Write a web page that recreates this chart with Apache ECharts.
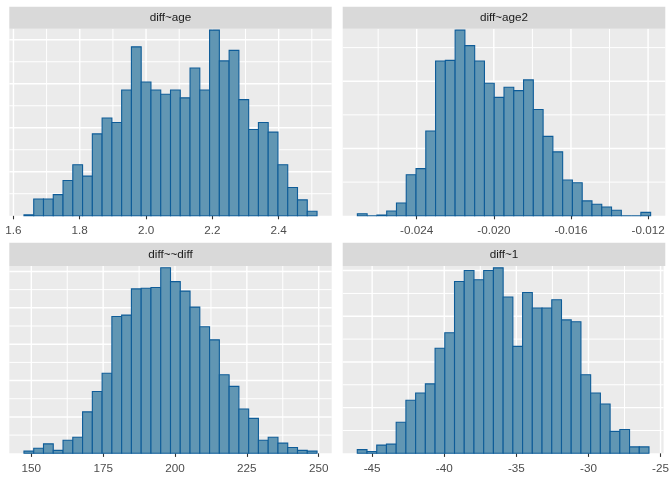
<!DOCTYPE html>
<html><head><meta charset="utf-8">
<script src="https://cdn.jsdelivr.net/npm/echarts@6/dist/echarts.min.js"></script>
<style>html,body{margin:0;padding:0;background:#fff}#c{width:672px;height:480px}</style>
</head><body><div id="c"></div>
<script>
// ---- data (counts, 30 bins per panel) ----
const panelTitles = ['diff~age', 'diff~age2', 'diff~~diff', 'diff~1'];

const ageBinStart = 1.6317, ageBinWidth = 0.02947;
const ageCounts = [1,19,19,24,40,58,45,93,111,106,143,192,152,143,138,143,134,168,143,211,176,188,132,98,106,95,58,32,18,5];

const age2BinStart = -0.027077, age2BinWidth = 0.000507;
const age2Counts = [3,0,1,7,19,61,70,126,230,231,276,253,230,197,176,191,186,202,158,118,95,53,49,22,17,13,8,0,0,5];

const diffBinStart = 147.44, diffBinWidth = 3.3993;
const diffCounts = [3,7,13,4,18,22,57,85,110,188,190,226,227,228,255,236,223,201,174,156,108,92,61,48,18,22,14,8,4,3];

const oneBinStart = -46.03, oneBinWidth = 0.6743;
const oneCounts = [4,2,9,10,34,58,66,76,115,132,188,200,190,200,203,171,117,176,159,159,168,146,144,86,66,54,24,26,7,7];

// tick values and labels
const ageTicks = [1.6,1.8,2.0,2.2,2.4], ageTickLabels = ['1.6','1.8','2.0','2.2','2.4'], ageMinor = [1.7,1.9,2.1,2.3,2.5];
const age2Ticks = [-0.024,-0.020,-0.016,-0.012], age2TickLabels = ['-0.024','-0.020','-0.016','-0.012'], age2Minor = [-0.026,-0.022,-0.018,-0.014];
const diffTicks = [150,175,200,225,250], diffTickLabels = ['150','175','200','225','250'], diffMinor = [162.5,187.5,212.5,237.5];
const oneTicks = [-45,-40,-35,-30,-25], oneTickLabels = ['-45','-40','-35','-30','-25'], oneMinor = [-42.5,-37.5,-32.5,-27.5];

const yMajor = [[50,100,150,200],[100,200],[50,100,150,200,250],[50,100,150,200]];
const yMinor = [[25,75,125,175],[50,150,250],[25,75,125,175,225],[25,75,125,175]];
const yTop = [212.5, 278, 257.5, 205];

// ---- build ----
const panels = [
  {title: panelTitles[0], start: ageBinStart, bw: ageBinWidth, counts: ageCounts, ticks: ageTicks, labels: ageTickLabels, minor: ageMinor},
  {title: panelTitles[1], start: age2BinStart, bw: age2BinWidth, counts: age2Counts, ticks: age2Ticks, labels: age2TickLabels, minor: age2Minor},
  {title: panelTitles[2], start: diffBinStart, bw: diffBinWidth, counts: diffCounts, ticks: diffTicks, labels: diffTickLabels, minor: diffMinor},
  {title: panelTitles[3], start: oneBinStart, bw: oneBinWidth, counts: oneCounts, ticks: oneTicks, labels: oneTickLabels, minor: oneMinor}
];

const layout = [
  {left: 9.3,  top: 28.8, width: 322.4, height: 186.9, stripTop: 6.7},
  {left: 342.7, top: 28.8, width: 322.6, height: 186.9, stripTop: 6.7},
  {left: 9.3,  top: 266.0, width: 322.4, height: 187.3, stripTop: 242.7},
  {left: 342.7, top: 266.0, width: 322.6, height: 187.3, stripTop: 242.7}
];

const FONT = '"Liberation Sans", Arial, Helvetica, sans-serif';
const MAJOR_W = 1.4, MINOR_W = 1.0;
const grids = [], xAxes = [], yAxes = [], series = [], graphics = [];

panels.forEach((p, k) => {
  const L = layout[k];
  const n = p.counts.length;
  const lo = p.start, hi = p.start + n * p.bw;
  const pad = (hi - lo) * 0.05;
  const xmin = lo - pad, xmax = hi + pad;
  grids.push({left: L.left, top: L.top, width: L.width, height: L.height, show: true,
    backgroundColor: '#EBEBEB', borderWidth: 0, containLabel: false});
  xAxes.push({type: 'value', gridIndex: k, min: xmin, max: xmax,
    axisLine: {show: false},
    axisTick: {show: true, length: 3.6, lineStyle: {color: '#333333', width: 1.1}, customValues: p.ticks},
    axisLabel: {show: true, customValues: p.ticks, margin: 9.5, color: '#4D4D4D', fontSize: 11.7, fontFamily: FONT,
      formatter: v => { const i = p.ticks.findIndex(t => Math.abs(t - v) < 1e-9); return i >= 0 ? p.labels[i] : ''; }},
    splitLine: {show: false}
  });
  yAxes.push({type: 'value', gridIndex: k, min: 0, max: yTop[k],
    axisLine: {show: false}, axisTick: {show: false}, axisLabel: {show: false}, splitLine: {show: false}
  });
  // grid lines: [x, y, lineWidth, direction(0 = vertical, 1 = horizontal)]
  const gl = [];
  p.minor.forEach(v => { if (v > xmin && v < xmax) gl.push([v, 0, MINOR_W, 0]); });
  p.ticks.forEach(v => { if (v > xmin && v < xmax) gl.push([v, 0, MAJOR_W, 0]); });
  yMinor[k].forEach(v => { if (v < yTop[k]) gl.push([xmin, v, MINOR_W, 1]); });
  yMajor[k].forEach(v => { if (v < yTop[k]) gl.push([xmin, v, MAJOR_W, 1]); });
  series.push({
    type: 'custom', xAxisIndex: k, yAxisIndex: k, data: gl, z: 1, silent: true, clip: true,
    encode: {x: 0, y: 1},
    renderItem: (params, api) => {
      const cs = params.coordSys;
      const pt = api.coord([api.value(0), api.value(1)]);
      const w = api.value(2);
      const shape = api.value(3) === 0
        ? {x1: pt[0], y1: cs.y, x2: pt[0], y2: cs.y + cs.height}
        : {x1: cs.x, y1: pt[1], x2: cs.x + cs.width, y2: pt[1]};
      return {type: 'line', shape: shape, style: {stroke: '#FFFFFF', lineWidth: w}};
    }
  });
  // histogram bars
  const data = p.counts.map((c, i) => [p.start + i * p.bw, p.start + (i + 1) * p.bw, c]);
  series.push({
    type: 'custom', xAxisIndex: k, yAxisIndex: k, data: data, z: 3,
    encode: {x: [0, 1], y: 2}, clip: false, silent: true,
    renderItem: (params, api) => {
      const a = api.coord([api.value(0), api.value(2)]);
      const b = api.coord([api.value(1), 0]);
      return {type: 'rect', shape: {x: a[0], y: a[1], width: b[0] - a[0], height: b[1] - a[1]},
        style: {fill: '#6196B3', stroke: '#0E5C98', lineWidth: 1.1}};
    }
  });
  // strip
  graphics.push({type: 'rect', left: L.left, top: L.stripTop,
    shape: {width: L.width, height: L.top - L.stripTop}, style: {fill: '#D9D9D9'}, silent: true});
  graphics.push({type: 'text', x: L.left + L.width / 2, y: (L.stripTop + L.top) / 2 + 0.5,
    style: {text: p.title, fill: '#1A1A1A', font: '11.7px ' + FONT, align: 'center', verticalAlign: 'middle'}, silent: true});
});

const chart = echarts.init(document.getElementById('c'), null, {renderer: 'canvas'});
chart.setOption({
  animation: false,
  backgroundColor: '#FFFFFF',
  grid: grids, xAxis: xAxes, yAxis: yAxes, series: series, graphic: graphics
});
</script>
</body></html>
